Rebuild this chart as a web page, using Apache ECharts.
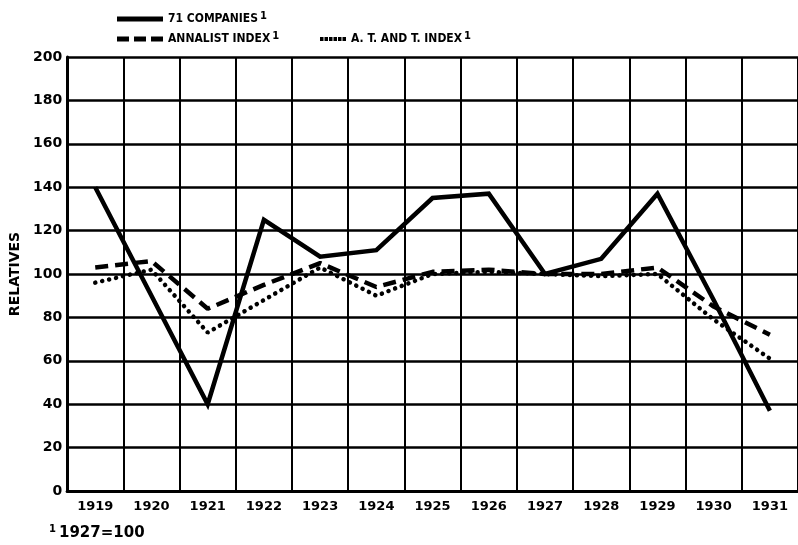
<!DOCTYPE html>
<html>
<head>
<meta charset="utf-8">
<script src="https://cdn.jsdelivr.net/npm/echarts@6/dist/echarts.min.js"></script>
<style>
  html, body { margin: 0; padding: 0; background: #fff; }
  #chart { width: 798px; height: 545px; }
</style>
</head>
<body>
<div id="chart"></div>
<script>
var years = ['1919', '1920', '1921', '1922', '1923', '1924', '1925', '1926', '1927', '1928', '1929', '1930', '1931'];
var companies = [140, 90, 40, 125, 108, 111, 135, 137, 100, 107, 137, 88, 37];
var annalist = [103, 106, 84, 95, 105, 94, 101, 102, 100, 100, 103, 85, 72];
var att = [96, 102, 73, 88, 103, 90, 100, 101, 100, 99, 100, 79, 61];

var font = 'DejaVu Sans';
var narrow = 'DejaVu Sans Condensed';
var ink = '#000';

var myChart = echarts.init(document.getElementById('chart'));

var legendText = {
	fontFamily: narrow,
	fontWeight: 'bold',
	fontSize: 12,
	color: ink,
	rich: {
		a: { fontFamily: narrow, fontWeight: 'bold', fontSize: 12, color: ink },
		s: { fontFamily: font, fontWeight: 'bold', fontSize: 10, color: ink, verticalAlign: 'top', padding: [0, 0, 6, 2] }
	}
};
function legendLabel(name) {
	return '{a|' + name + '}{s|1}';
}

// legend samples: solid bar, three dashes, row of dots
var solidIcon = 'path://M0,0H46V5H0Z';
var dashIcon = 'path://M0,0H12V5H0Z M17,0H29V5H17Z M34,0H46V5H34Z';
var dotIcon = 'path://M0,0H3.5V4H0Z M4.5,0H8V4H4.5Z M9,0H12.5V4H9Z M13.5,0H17V4H13.5Z M18,0H21.5V4H18Z M22.5,0H26V4H22.5Z';

option = {
	backgroundColor: '#fff',
	animation: false,
	title: {
		left: 44,
		top: 519,
		text: '{s|1}{a|1927=100}',
		textStyle: {
			rich: {
				a: { fontFamily: font, fontWeight: 'bold', fontSize: 15, color: ink },
				s: { fontFamily: font, fontWeight: 'bold', fontSize: 10, color: ink, verticalAlign: 'top', padding: [0, 3, 8, 0] }
			}
		}
	},
	legend: [{
		left: 117,
		top: 11,
		padding: 0,
		itemWidth: 46,
		itemHeight: 5,
		data: [{ name: '71 COMPANIES', icon: solidIcon }],
		formatter: legendLabel,
		textStyle: legendText
	}, {
		left: 117,
		top: 31,
		padding: 0,
		itemWidth: 46,
		itemHeight: 5,
		data: [{ name: 'ANNALIST INDEX', icon: dashIcon }],
		formatter: legendLabel,
		textStyle: legendText
	}, {
		left: 320,
		top: 31,
		padding: 0,
		itemWidth: 26,
		itemHeight: 4,
		data: [{ name: 'A. T. AND T. INDEX', icon: dotIcon }],
		formatter: legendLabel,
		textStyle: legendText
	}],
	grid: {
		left: 63,
		top: 57,
		width: 741,
		bottom: 54
	},
	xAxis: {
		type: 'category',
		data: years,
		boundaryGap: true,
		axisLine: { show: true, lineStyle: { color: ink, width: 3 } },
		axisTick: { show: false },
		axisLabel: {
			margin: 9,
			fontFamily: font,
			fontWeight: 'bold',
			fontSize: 13,
			color: ink
		},
		splitLine: { show: true, lineStyle: { color: ink, width: 2 } }
	},
	yAxis: {
		type: 'value',
		min: 0,
		max: 200,
		interval: 20,
		name: 'RELATIVES',
		nameLocation: 'middle',
		nameGap: 42,
		nameTextStyle: {
			fontFamily: font,
			fontWeight: 'bold',
			fontSize: 14,
			color: ink
		},
		axisLine: { show: true, lineStyle: { color: ink, width: 3 } },
		axisTick: { show: false },
		axisLabel: {
			margin: 5,
			fontFamily: font,
			fontWeight: 'bold',
			fontSize: 14,
			color: ink
		},
		splitLine: { show: true, lineStyle: { color: ink, width: 2.5 } }
	},
	series: [{
		name: '71 COMPANIES',
		type: 'line',
		data: companies,
		symbol: 'none',
		z: 5,
		lineStyle: { color: ink, width: 4.5, join: 'miter' },
		itemStyle: { color: ink }
	}, {
		name: 'ANNALIST INDEX',
		type: 'line',
		data: annalist,
		symbol: 'none',
		z: 4,
		lineStyle: { color: ink, width: 4.5, type: [13, 7] },
		itemStyle: { color: ink }
	}, {
		name: 'A. T. AND T. INDEX',
		type: 'line',
		data: att,
		symbol: 'none',
		z: 3,
		lineStyle: { color: ink, width: 4.5, type: [0.1, 7], cap: 'round' },
		itemStyle: { color: ink }
	}]
};

myChart.setOption(option);
</script>
</body>
</html>
